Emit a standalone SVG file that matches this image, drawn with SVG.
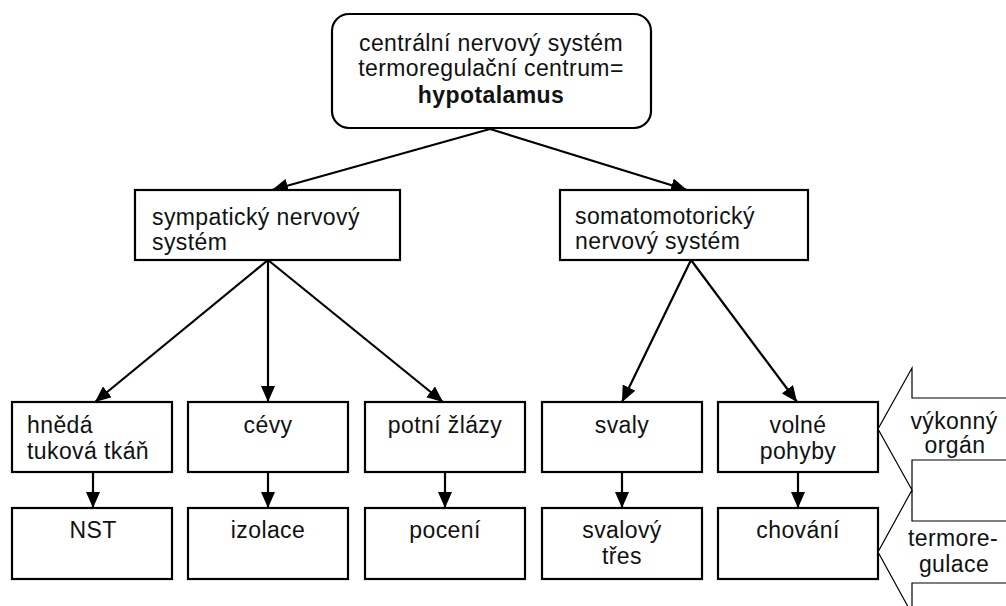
<svg xmlns="http://www.w3.org/2000/svg" width="1006" height="606" viewBox="0 0 1006 606">
<style>
  .box{fill:#fff;stroke:#000;stroke-width:2.2}
  .blk{fill:#fff;stroke:#000;stroke-width:1.2}
  .t{font-family:"Liberation Sans",Arial,sans-serif;font-size:23px;letter-spacing:0.4px;fill:#111}
  .c{text-anchor:middle}
  .b{font-weight:bold}
  .con line{stroke:#000;stroke-width:2.2;marker-end:url(#ah)}
</style>
<defs>
  <marker id="ah" markerUnits="userSpaceOnUse" markerWidth="16" markerHeight="14" viewBox="0 0 16 14" refX="16" refY="7" orient="auto">
    <path d="M0,0 L16,7 L0,14 Z" fill="#000"/>
  </marker>
</defs>
<rect width="1006" height="606" fill="#fff"/>

<g id="connectors" class="con">
  <line x1="490" y1="129" x2="272" y2="190"/>
  <line x1="490" y1="129" x2="687" y2="190"/>
  <line x1="268" y1="260" x2="95" y2="402"/>
  <line x1="268" y1="260" x2="268" y2="402"/>
  <line x1="268" y1="260" x2="443" y2="402"/>
  <line x1="691" y1="260" x2="622" y2="402"/>
  <line x1="691" y1="260" x2="797" y2="402"/>
  <line x1="93" y1="472" x2="93" y2="508"/>
  <line x1="268" y1="472" x2="268" y2="508"/>
  <line x1="445" y1="472" x2="445" y2="508"/>
  <line x1="622" y1="472" x2="622" y2="508"/>
  <line x1="798" y1="472" x2="798" y2="508"/>
</g>

<g id="cns">
  <rect class="box" x="332" y="14" width="319" height="114" rx="17" ry="17"/>
  <text class="t c" x="491" y="51">centrální nervový systém</text>
  <text class="t c" x="491" y="76">termoregulační centrum=</text>
  <text class="t c b" x="491" y="103">hypotalamus</text>
</g>

<g id="sympaticky">
  <rect class="box" x="135" y="190" width="265" height="70"/>
  <text class="t" x="152" y="225">sympatický nervový</text>
  <text class="t" x="152" y="250">systém</text>
</g>

<g id="somatomotoricky">
  <rect class="box" x="560" y="190" width="248" height="70"/>
  <text class="t" x="575" y="224">somatomotorický</text>
  <text class="t" x="575" y="249">nervový systém</text>
</g>

<g id="hneda">
  <rect class="box" x="12" y="402" width="160" height="70"/>
  <text class="t" x="27" y="433">hnědá</text>
  <text class="t" x="27" y="459">tuková tkáň</text>
</g>
<g id="cevy">
  <rect class="box" x="188" y="402" width="160" height="70"/>
  <text class="t c" x="268" y="433">cévy</text>
</g>
<g id="potni">
  <rect class="box" x="365" y="402" width="160" height="70"/>
  <text class="t c" x="445" y="433">potní žlázy</text>
</g>
<g id="svaly">
  <rect class="box" x="542" y="402" width="160" height="70"/>
  <text class="t c" x="622" y="433">svaly</text>
</g>
<g id="volne">
  <rect class="box" x="718" y="402" width="160" height="70"/>
  <text class="t c" x="798" y="433">volné</text>
  <text class="t c" x="798" y="459">pohyby</text>
</g>

<g id="nst">
  <rect class="box" x="12" y="508" width="160" height="71"/>
  <text class="t c" x="93" y="538">NST</text>
</g>
<g id="izolace">
  <rect class="box" x="188" y="508" width="160" height="71"/>
  <text class="t c" x="268" y="538">izolace</text>
</g>
<g id="poceni">
  <rect class="box" x="365" y="508" width="160" height="71"/>
  <text class="t c" x="445" y="538">pocení</text>
</g>
<g id="svalovy">
  <rect class="box" x="542" y="508" width="160" height="71"/>
  <text class="t c" x="622" y="538">svalový</text>
  <text class="t c" x="622" y="564">třes</text>
</g>
<g id="chovani">
  <rect class="box" x="718" y="508" width="160" height="71"/>
  <text class="t c" x="798" y="538">chování</text>
</g>

<g id="vykonny">
  <path class="blk" d="M1010,398 H912 V368 L878,429 L912,490 V460 H1010"/>
  <text class="t c" x="954" y="429">výkonný</text>
  <text class="t c" x="955" y="453">orgán</text>
</g>
<g id="termoregulace">
  <path class="blk" d="M1010,521 H912 V490 L878,552 L912,614 V583 H1010"/>
  <text class="t c" x="953" y="546">termore-</text>
  <text class="t c" x="954" y="572">gulace</text>
</g>
</svg>
